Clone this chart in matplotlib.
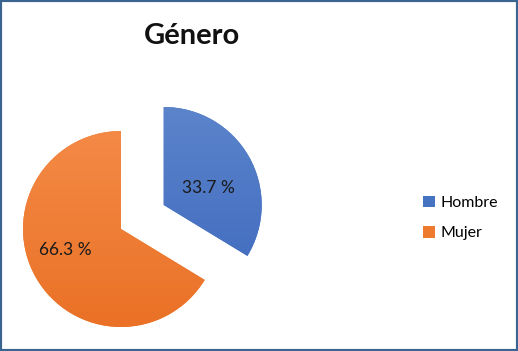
import matplotlib
matplotlib.use('Agg')
import numpy as np
import matplotlib.pyplot as plt
from matplotlib.colors import LinearSegmentedColormap
from matplotlib.patches import Rectangle

# Datos del gráfico
categorias = ['Hombre', 'Mujer']
porcentajes = [33.7, 66.3]
colores = ['#4672C2', '#EE7A30']
# degradado (arriba -> abajo) de cada porción
degradados = [('#5B84CB', '#3F69BE'), ('#F48A46', '#EA7126')]

plt.rcParams['font.family'] = ['Lato', 'DejaVu Sans']

W, H = 518, 351
fig = plt.figure(figsize=(W / 100, H / 100), dpi=100)
fig.patch.set_facecolor('white')

# Ejes cuadrados: 1 unidad = 98 px, centro de la torta en (121, 229) px
r_px = 98
ax = fig.add_axes([(121 - 1.25 * r_px) / W, (H - 229 - 1.25 * r_px) / H,
                   3 * r_px / W, 3 * r_px / H])
wedges, textos, autotextos = ax.pie(
    porcentajes, colors=colores, startangle=90, counterclock=False,
    explode=[0.5, 0], autopct='%.1f %%', pctdistance=0.55,
    wedgeprops=dict(linewidth=0),
    textprops=dict(fontsize=12.5, color='#1a1a1a'))

# Degradado vertical dentro de cada porción
for w, (c_top, c_bot) in zip(wedges, degradados):
    cmap = LinearSegmentedColormap.from_list('g', [c_bot, c_top])
    cx, cy = w.center
    grad = np.linspace(0, 1, 256).reshape(-1, 1)
    im = ax.imshow(grad, cmap=cmap, origin='lower', aspect='auto',
                   extent=[cx - 1, cx + 1, cy - 1, cy + 1], zorder=w.get_zorder())
    im.set_clip_path(w)

# Posición de las etiquetas de porcentaje
dist = [0.49, 0.61]
for w, t, d in zip(wedges, autotextos, dist):
    ang = np.deg2rad((w.theta1 + w.theta2) / 2 - 8.5)
    cx, cy = w.center
    t.set_position((cx + d * np.cos(ang), cy + d * np.sin(ang)))
    t.set_zorder(5)

ax.set_xlim(-1.25, 1.75)
ax.set_ylim(-1.25, 1.75)
ax.set_aspect('equal')
ax.axis('off')

# Título
fig.text(192 / W, 1 - 36 / H, 'Género', ha='center', va='center',
         fontsize=21, fontweight='bold', color='#111111')

# Leyenda
fig.legend(wedges, categorias, loc='center left',
           bbox_to_anchor=(409 / W, 1 - 218 / H), frameon=False,
           fontsize=11.5, handlelength=0.75, handleheight=0.75,
           handletextpad=0.3, labelspacing=1.0)

# Marco azul
fig.add_artist(Rectangle((0, 0), 1, 1, transform=fig.transFigure,
                         fill=False, edgecolor='#3A6591', linewidth=3))

fig.savefig('out.png', dpi=100)
